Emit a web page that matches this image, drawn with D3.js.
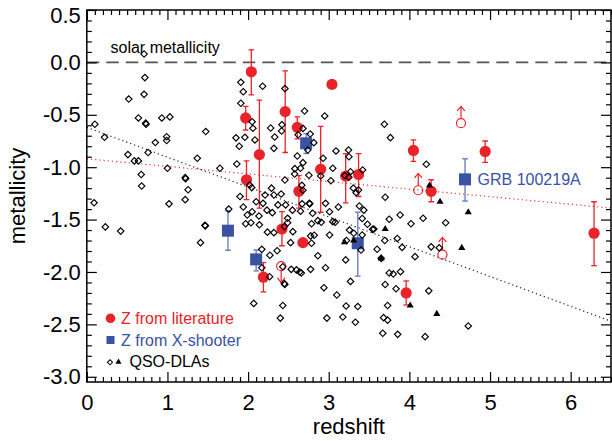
<!DOCTYPE html>
<html><head><meta charset="utf-8">
<script src="https://cdn.jsdelivr.net/npm/d3@7"></script>
<style>body{margin:0;background:#fff}svg{display:block}text{font-family:"Liberation Sans",Arial,Helvetica,sans-serif}</style>
</head><body><svg id="c" width="612" height="441"></svg>
<script>
// ---------------- data ----------------
const xTicks = [0,1,2,3,4,5,6];
const xTickLabels = ["0","1","2","3","4","5","6"];
const yTicks = [0.5,0,-0.5,-1,-1.5,-2,-2.5,-3];
const yTickLabels = ["0.5","0.0","-0.5","-1.0","-1.5","-2.0","-2.5","-3.0"];

// GRB metallicities from literature: [z, Z, errLow, errHigh]
const literature = [
  [2.04,-0.09,-0.31,0.12],[1.97,-0.53,-0.645,-0.42],[2.14,-0.88,-1.39,-0.36],
  [1.98,-1.12,-1.31,-0.94],[2.46,-0.47,-0.86,-0.08],[2.61,-0.62,-0.73,-0.52],
  [3.04,-0.21,null,null],[2.90,-1.02,-1.43,-0.61],[2.63,-1.23,-1.39,-1.08],
  [2.68,-1.72,null,null],[2.42,-1.59,-1.75,-1.425],[2.19,-2.05,-2.19,-1.91],
  [3.21,-1.085,-1.34,-0.87],[3.37,-1.07,-1.28,-0.87],[4.05,-0.84,-0.945,-0.74],
  [4.27,-1.23,-1.33,-1.12],[3.96,-2.20,-2.315,-2.086],[4.94,-0.85,-0.955,-0.75],
  [6.29,-1.63,-1.94,-1.33]
];
// limits from literature: [z, Z, arrow tip]
const literatureLimits = [
  [4.64,-0.58,-0.42],[4.11,-1.22,-1.06],[4.41,-1.835,-1.67],[2.41,-1.945,-2.10]
];
// X-shooter: [z, Z, errLow, errHigh]
const xshooter = [
  [1.75,-1.606,-1.793,-1.418],[2.10,-1.88,-1.99,-1.79],[2.72,-0.772,-0.87,-0.68],
  [3.36,-1.726,-2.04,-1.43],[4.69,-1.116,-1.323,-0.919]
];
const grbLabel = {name:"GRB 100219A", z:4.69, Z:-1.116};

// QSO-DLAs (open diamonds): [z, Z]
const qsoDiamonds = [
  [0.10,-0.59],[0.09,-1.34],[0.22,-0.715],[0.23,-1.57],[0.42,-1.61],[0.52,-0.35],[0.51,-0.88],
  [0.59,-0.94],[0.64,-0.94],[0.64,-0.53],[0.675,-1.07],[0.68,-1.18],[0.71,0.08],[0.72,-0.145],
  [0.71,-0.305],[0.73,-0.58],[0.735,-0.59],[0.76,-0.86],[0.85,-0.765],[0.93,-0.53],[1.03,-0.52],
  [0.99,-0.71],[0.99,-0.745],[1.00,-1.01],[1.02,-1.35],[1.22,-1.10],[1.225,-1.11],[1.256,-1.215],
  [1.22,-1.31],[1.37,-0.915],[1.475,-0.66],[1.465,-1.555],[1.47,-1.56],[1.41,-1.72],[1.65,-1.01],
  [1.76,-1.40],[1.86,-0.97],[1.85,-0.72],[1.89,-0.80],[1.91,-0.19],[1.94,-0.28],[1.91,-0.39],
  [1.96,-0.715],[2.18,-0.228],[2.05,-0.566],[2.06,-0.629],[2.085,-0.74],[2.28,-0.626],[2.33,-0.712],
  [2.42,-0.594],[2.415,-0.655],[2.457,-0.25],[2.32,-0.82],[2.457,-1.122],[2.41,-1.256],[2.29,-1.20],
  [2.02,-1.17],[2.045,-1.195],[1.90,-1.28],[2.21,-1.265],[1.94,-1.38],[1.99,-1.456],[2.05,-1.425],
  [2.035,-1.53],[2.135,-1.466],[2.14,-1.55],[2.185,-1.345],[2.234,-1.41],[2.30,-1.434],[2.32,-1.265],
  [2.37,-1.36],[2.465,-1.36],[2.24,-1.62],[2.32,-1.625],[2.49,-1.488],[2.45,-1.567],[2.36,-1.797],
  [2.17,-1.784],[2.27,-1.84],[2.17,-1.96],[2.267,-2.045],[2.45,-2.11],[2.455,-2.12],[2.43,-1.95],
  [2.07,-2.30],[2.43,-2.32],[2.40,-2.44],[2.10,-1.33],[1.97,-1.54],
  [2.70,-0.464],[2.68,-0.63],[2.62,-0.69],[2.77,-0.683],[2.815,-0.766],[2.74,-0.836],[2.95,-0.511],
  [2.61,-0.893],[2.68,-0.957],[2.65,-1.01],[2.93,-0.915],[3.09,-0.845],[3.05,-1.01],[2.58,-1.014],
  [2.577,-1.065],[2.754,-1.077],[2.90,-1.084],[3.026,-1.129],[2.667,-1.173],[2.68,-1.22],[2.555,-1.615],
  [2.527,-1.72],[2.76,-1.345],[2.765,-1.35],[2.96,-1.345],[3.01,-1.425],[2.787,-1.54],[2.865,-1.51],
  [2.907,-1.526],[3.01,-1.647],[2.787,-1.726],[2.775,-1.656],[2.535,-1.975],[2.60,-1.98],[2.64,-2.0],
  [2.66,-2.01],[2.775,-1.975],[2.865,-1.845],[2.96,-1.96],[2.94,-2.15],[3.10,-2.22],[2.977,-2.44],
  [2.55,-1.41],[2.49,-1.53],[2.65,-1.42],[2.80,-1.44],[2.82,-1.65],[2.67,-1.35],
  [3.245,-0.836],[3.25,-0.90],[3.42,-1.027],[3.27,-1.043],[3.25,-1.096],[3.305,-1.20],[3.37,-1.218],
  [3.34,-1.243],[3.05,-1.52],[3.08,-1.526],[3.21,-1.885],[3.27,-2.09],[3.215,-2.325],[3.36,-2.33],
  [3.175,-2.43],[3.33,-2.48],[3.38,-1.37],[3.435,-1.41],[3.415,-1.49],[3.257,-1.60],[3.31,-1.63],
  [3.48,-1.545],[3.545,-1.593],[3.415,-1.647],[3.40,-1.79],[3.12,-1.38],[3.20,-1.08],[3.22,-1.70],
  [3.69,-0.59],[3.765,-0.718],[4.21,-0.972],[3.70,-1.287],[3.60,-1.783],[3.695,-1.70],[3.75,-1.497],
  [3.885,-1.456],[4.02,-1.54],[4.17,-1.487],[4.45,-1.53],[3.85,-1.68],[3.91,-1.765],[4.07,-1.854],
  [4.27,-1.76],[4.37,-1.77],[3.75,-2.01],[3.80,-2.02],[3.89,-1.997],[3.70,-2.12],[3.835,-2.16],
  [4.24,-2.18],[3.73,-2.32],[3.68,-2.436],[3.73,-2.46],[3.67,-2.585],[3.855,-2.595],[4.195,-2.617],
  [4.73,-2.515],[3.56,-1.59],[3.65,-1.87]
];
// QSO-DLAs (filled triangles): [z, Z]
const qsoTriangles = [
  [3.195,-1.717],[3.31,-1.70],[3.70,-1.59],[3.65,-1.87],[4.01,-2.32],
  [4.34,-2.40],[4.25,-1.175],[4.38,-1.33],[4.73,-1.43],[4.65,-1.77]
];
// linear fits: [z, Z] end points
const fitAll = [[0,-0.62],[6.5,-2.47]];
const fitGRB = [[0,-0.92],[6.5,-1.39]];
const solarLevel = 0;
const legendItems = ["Z from literature","Z from X-shooter","QSO-DLAs"];

// ---------------- drawing ----------------
const RED = "#e8232a", BLUE = "#3a52a2", BLUE_ERR = "#6d82c2";
const svg = d3.select("#c");
const L = 86.8, R = 611, T = 10, B = 382;
const x = d3.scaleLinear().domain([0, 6.5]).range([L, R]);
const y = d3.scaleLinear().domain([-3.05, 0.5]).range([B, T]);

svg.append("defs").append("clipPath").attr("id","clip")
  .append("rect").attr("x",L).attr("y",T).attr("width",R-L).attr("height",B-T);

const plot = svg.append("g").attr("clip-path","url(#clip)");
const line = d3.line().x(d=>x(d[0])).y(d=>y(d[1]));

// solar line
plot.append("path").datum([[0,solarLevel],[6.5,solarLevel]]).attr("d",line)
  .attr("stroke","#555").attr("stroke-width",1.8).attr("stroke-dasharray","12.5 7").attr("fill","none");
// fits
plot.append("path").datum(fitAll).attr("d",line).attr("stroke","#222").attr("stroke-width",1.2)
  .attr("stroke-dasharray","1.2 3").attr("fill","none");
plot.append("path").datum(fitGRB).attr("d",line).attr("stroke","#f03a3a").attr("stroke-width",1.2)
  .attr("stroke-dasharray","1.2 3").attr("fill","none");

function errBars(data, color, w){
  const g = plot.append("g").attr("stroke",color).attr("stroke-width",w).attr("fill","none");
  data.filter(d=>d[2]!==null).forEach(d=>{
    const cx = x(d[0]);
    g.append("line").attr("x1",cx).attr("x2",cx).attr("y1",y(d[2])).attr("y2",y(d[3]));
    g.append("line").attr("x1",cx-2.8).attr("x2",cx+2.8).attr("y1",y(d[2])).attr("y2",y(d[2]));
    g.append("line").attr("x1",cx-2.8).attr("x2",cx+2.8).attr("y1",y(d[3])).attr("y2",y(d[3]));
  });
}
errBars(literature, RED, 1.3);
errBars(xshooter, BLUE_ERR, 1.4);

plot.append("g").selectAll("circle").data(literature).join("circle")
  .attr("cx",d=>x(d[0])).attr("cy",d=>y(d[1])).attr("r",5.6).attr("fill",RED);

plot.append("g").selectAll("rect").data(xshooter).join("rect")
  .attr("x",d=>x(d[0])-6).attr("y",d=>y(d[1])-6).attr("width",12).attr("height",12).attr("fill",BLUE);

// limits
const lg = plot.append("g").attr("stroke",RED).attr("stroke-width",1.2).attr("fill","none");
literatureLimits.forEach(d=>{
  const cx = x(d[0]), cy = y(d[1]), ty = y(d[2]), r = 4.5;
  const dir = ty < cy ? -1 : 1;
  lg.append("circle").attr("cx",cx).attr("cy",cy).attr("r",r);
  lg.append("line").attr("x1",cx).attr("x2",cx).attr("y1",cy+dir*r).attr("y2",ty);
  lg.append("path").attr("d",`M${cx-3.8},${ty-dir*4.5}L${cx},${ty}L${cx+3.8},${ty-dir*4.5}`);
});

// QSO diamonds
const diamond = d3.symbol(d3.symbolSquare, 21);
plot.append("g").selectAll("path").data(qsoDiamonds).join("path")
  .attr("d",diamond()).attr("transform",d=>`translate(${x(d[0])},${y(d[1])}) rotate(45)`)
  .attr("fill","none").attr("stroke","#000").attr("stroke-width",1.15);
const tri = d3.symbol(d3.symbolTriangle, 22);
plot.append("g").selectAll("path").data(qsoTriangles).join("path")
  .attr("d",tri()).attr("transform",d=>`translate(${x(d[0])},${y(d[1])})`).attr("fill","#000");

// text annotations
svg.append("text").attr("x",110.5).attr("y",52.5).attr("font-size",16).attr("fill","#000").text("solar metallicity");
svg.append("text").attr("x",x(grbLabel.z)+12.5).attr("y",y(grbLabel.Z)+5.5).attr("font-size",16)
  .attr("fill",BLUE).text(grbLabel.name);

// legend
const leg = svg.append("g");
leg.append("circle").attr("cx",110.5).attr("cy",318.3).attr("r",4.8).attr("fill",RED);
leg.append("text").attr("x",121).attr("y",324).attr("font-size",16).attr("fill",RED).text(legendItems[0]);
leg.append("rect").attr("x",106.5).attr("y",336).attr("width",8).attr("height",8).attr("fill",BLUE);
leg.append("text").attr("x",121).attr("y",345.7).attr("font-size",16).attr("fill",BLUE).text(legendItems[1]);
leg.append("path").attr("d",d3.symbol(d3.symbolSquare,13)()).attr("transform","translate(110,362.3) rotate(45)")
  .attr("fill","none").attr("stroke","#000").attr("stroke-width",1);
leg.append("path").attr("d",d3.symbol(d3.symbolTriangle,16)()).attr("transform","translate(118.5,362)").attr("fill","#000");
leg.append("text").attr("x",129.5).attr("y",367).attr("font-size",16).attr("fill","#000").text(legendItems[2]);

// axes
const xMinor = d3.range(0, 6.51, 0.1).map(v=>+v.toFixed(1)).filter(v=>!xTicks.includes(v));
const yMinor = d3.range(-3.0, 0.51, 0.1).map(v=>+v.toFixed(1)).filter(v=>!yTicks.includes(v));

function styleAxis(g){
  g.select(".domain").remove();
  g.selectAll("line").attr("stroke","#000").attr("stroke-width",1.2);
  g.selectAll("text").attr("font-size",22).attr("fill","#000")
    .attr("font-family",'"Liberation Sans",Arial,Helvetica,sans-serif');
}
svg.append("g").attr("transform",`translate(0,${B})`)
  .call(d3.axisBottom(x).tickValues(xTicks).tickFormat((d,i)=>xTickLabels[i]).tickSizeInner(-10).tickSizeOuter(0).tickPadding(12)).call(styleAxis);
svg.append("g").attr("transform",`translate(0,${B})`)
  .call(d3.axisBottom(x).tickValues(xMinor).tickFormat("").tickSizeInner(-5).tickSizeOuter(0)).call(styleAxis);
svg.append("g").attr("transform",`translate(0,${T})`)
  .call(d3.axisTop(x).tickValues(xTicks).tickFormat("").tickSizeInner(-10).tickSizeOuter(0)).call(styleAxis);
svg.append("g").attr("transform",`translate(0,${T})`)
  .call(d3.axisTop(x).tickValues(xMinor).tickFormat("").tickSizeInner(-5).tickSizeOuter(0)).call(styleAxis);
const yAxisG = svg.append("g").attr("transform",`translate(${L},0)`)
  .call(d3.axisLeft(y).tickValues(yTicks).tickFormat((d,i)=>yTickLabels[i]).tickSizeInner(-10).tickSizeOuter(0).tickPadding(6)).call(styleAxis);
// top label sits slightly below its tick so it is not cut by the page edge (as in the reference)
yAxisG.selectAll(".tick text").filter(d=>d===yTicks[0]).attr("y",5);
svg.append("g").attr("transform",`translate(${L},0)`)
  .call(d3.axisLeft(y).tickValues(yMinor).tickFormat("").tickSizeInner(-5).tickSizeOuter(0)).call(styleAxis);
svg.append("g").attr("transform",`translate(${R},0)`)
  .call(d3.axisRight(y).tickValues(yTicks).tickFormat("").tickSizeInner(-10).tickSizeOuter(0)).call(styleAxis);
svg.append("g").attr("transform",`translate(${R},0)`)
  .call(d3.axisRight(y).tickValues(yMinor).tickFormat("").tickSizeInner(-5).tickSizeOuter(0)).call(styleAxis);

svg.append("rect").attr("x",L).attr("y",T).attr("width",R-L).attr("height",B-T)
  .attr("fill","none").attr("stroke","#000").attr("stroke-width",1.5);

svg.append("text").attr("x",(L+R)/2).attr("y",434).attr("text-anchor","middle").attr("font-size",22).text("redshift");
svg.append("text").attr("transform",`translate(24.5,${(T+B)/2}) rotate(-90)`).attr("text-anchor","middle")
  .attr("font-size",22).text("metallicity");
</script></body></html>
